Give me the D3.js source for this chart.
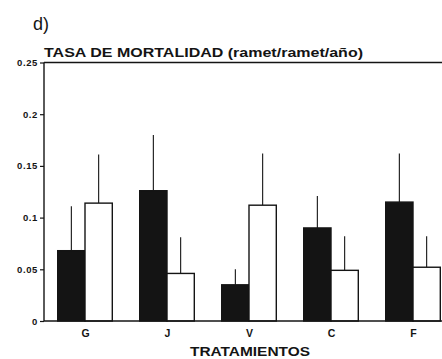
<!DOCTYPE html>
<html>
<head>
<meta charset="utf-8">
<script src="https://cdn.jsdelivr.net/npm/d3@7"></script>
<style>
  html, body { margin: 0; padding: 0; background: #fff; }
  svg { display: block; font-family: "Liberation Sans", Arial, sans-serif; }
</style>
</head>
<body>
<svg id="chart" width="442" height="359"></svg>
<script>
// Treatments on the x axis
const categories = ["G", "J", "V", "C", "F"];
// Mean mortality rate (ramet/ramet/año): black series and white series
const blackValues = [0.068, 0.126, 0.035, 0.090, 0.115];
const whiteValues = [0.114, 0.046, 0.112, 0.049, 0.052];
// Upper error extent (added to each mean)
const blackErrors = [0.043, 0.054, 0.015, 0.031, 0.047];
const whiteErrors = [0.047, 0.035, 0.050, 0.033, 0.030];
// Y axis ticks
const yTicks = [0, 0.05, 0.1, 0.15, 0.2, 0.25];
const yTickLabels = ["0", "0.05", "0.1", "0.15", "0.2", "0.25"];

const ink = "#141414";
const svg = d3.select("#chart");

const plot = { left: 44, right: 454, top: 62.5, bottom: 321 };

const x = d3.scalePoint().domain(categories).range([plot.left, plot.right]).padding(0.5);
const y = d3.scaleLinear().domain([0, 0.25]).range([plot.bottom, plot.top]);
const barW = 27.3;

const series = [
  { name: "black", values: blackValues, errors: blackErrors, offset: -barW, fill: ink },
  { name: "white", values: whiteValues, errors: whiteErrors, offset: 0, fill: "#fff" }
];

// Error bars (upper line only, drawn from the top of each bar)
series.forEach(s => {
  svg.append("g").selectAll("line")
    .data(categories)
    .join("line")
    .attr("x1", (c) => x(c) + s.offset + barW / 2)
    .attr("x2", (c) => x(c) + s.offset + barW / 2)
    .attr("y1", (c, i) => y(s.values[i]))
    .attr("y2", (c, i) => y(s.values[i] + s.errors[i]))
    .attr("stroke", ink)
    .attr("stroke-width", 1.1);
});

// Bars
series.forEach(s => {
  svg.append("g").selectAll("rect")
    .data(categories)
    .join("rect")
    .attr("x", (c) => x(c) + s.offset)
    .attr("y", (c, i) => y(s.values[i]))
    .attr("width", barW)
    .attr("height", (c, i) => y(0) - y(s.values[i]))
    .attr("fill", s.fill)
    .attr("stroke", ink)
    .attr("stroke-width", 1.4);
});

// Frame: top line
svg.append("line")
  .attr("x1", plot.left).attr("x2", 442)
  .attr("y1", plot.top).attr("y2", plot.top)
  .attr("stroke", ink).attr("stroke-width", 1.3);

// Y axis
const yAxis = d3.axisLeft(y)
  .tickValues(yTicks)
  .tickFormat((d, i) => yTickLabels[i])
  .tickSize(4)
  .tickPadding(2);
const gy = svg.append("g")
  .attr("transform", `translate(${plot.left},0)`)
  .call(yAxis);
gy.select(".domain").remove();
gy.selectAll(".tick line").attr("stroke", ink).attr("stroke-width", 1.2);
gy.selectAll(".tick text")
  .attr("fill", ink)
  .attr("font-size", 9.5)
  .attr("font-weight", "bold")
  .attr("letter-spacing", 0.6);
svg.append("line")
  .attr("x1", plot.left).attr("x2", plot.left)
  .attr("y1", plot.top).attr("y2", plot.bottom)
  .attr("stroke", ink).attr("stroke-width", 1.4);

// X axis
const xAxis = d3.axisBottom(x).tickSize(0).tickPadding(9);
const gx = svg.append("g")
  .attr("transform", `translate(0,${plot.bottom})`)
  .call(xAxis);
gx.select(".domain").remove();
gx.selectAll(".tick text")
  .attr("fill", ink)
  .attr("font-size", 10.5)
  .attr("font-weight", "bold");
svg.append("line")
  .attr("x1", plot.left).attr("x2", 442)
  .attr("y1", plot.bottom).attr("y2", plot.bottom)
  .attr("stroke", ink).attr("stroke-width", 1.4);

// Panel letter and titles
svg.append("text")
  .attr("x", 33).attr("y", 30)
  .attr("font-size", 18)
  .attr("fill", ink)
  .text("d)");

svg.append("text")
  .attr("x", 44).attr("y", 57)
  .attr("font-size", 13.5)
  .attr("font-weight", "bold")
  .attr("fill", ink)
  .attr("textLength", 319)
  .attr("lengthAdjust", "spacingAndGlyphs")
  .text("TASA DE MORTALIDAD (ramet/ramet/año)");

svg.append("text")
  .attr("x", 250).attr("y", 355.5)
  .attr("text-anchor", "middle")
  .attr("font-size", 13.5)
  .attr("font-weight", "bold")
  .attr("fill", ink)
  .attr("textLength", 120)
  .attr("lengthAdjust", "spacingAndGlyphs")
  .text("TRATAMIENTOS");
</script>
</body>
</html>
